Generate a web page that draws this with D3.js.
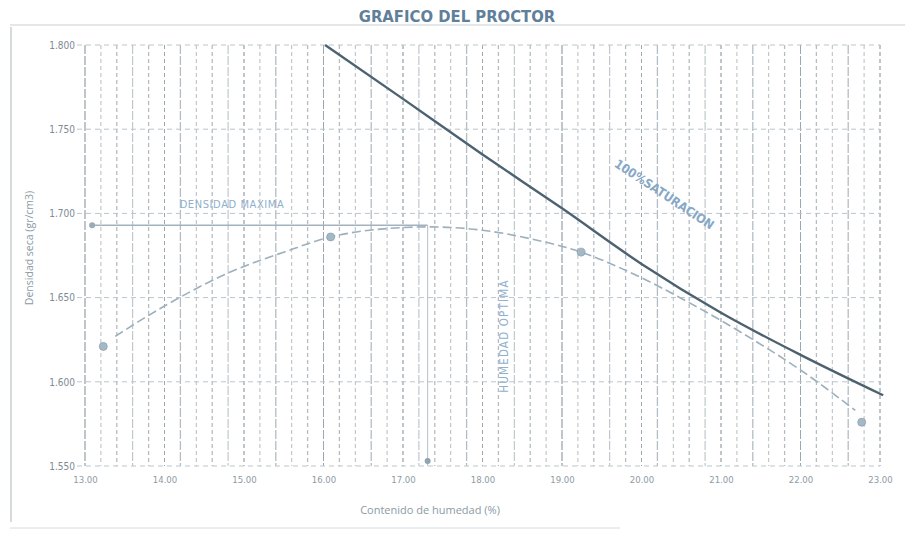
<!DOCTYPE html>
<html>
<head>
<meta charset="utf-8">
<script src="https://cdn.jsdelivr.net/npm/d3@7"></script>
<style>
  body { margin: 0; background: #fff; }
  svg { display: block; }
</style>
</head>
<body>
<div id="chart"></div>
<script>
// Proctor test readings (moisture %, dry density gr/cm3)
const moisture = [13.23, 16.09, 19.24, 22.77];
const density = [1.621, 1.686, 1.677, 1.576];

// hand drawn compaction curve through the readings
const curveMoisture = [13.38, 14.0, 14.82, 15.5, 16.09, 16.8, 17.34, 18.0, 18.6, 19.24, 19.9, 20.6, 21.3, 22.0, 22.69];
const curveDensity = [1.627, 1.645, 1.665, 1.677, 1.686, 1.691, 1.692, 1.690, 1.685, 1.677, 1.664, 1.647, 1.628, 1.607, 1.583];

// zero air voids line
const satMoisture = [16.02, 17.0, 18.0, 19.0, 20.0, 21.0, 22.0, 23.04];
const satDensity = [1.800, 1.768, 1.735, 1.703, 1.670, 1.641, 1.616, 1.592];

const maxDensity = 1.693;
const optMoisture = 17.31;
const xStart = 13.09;

const xTicks = [13, 14, 15, 16, 17, 18, 19, 20, 21, 22, 23];
const yTicks = [1.55, 1.60, 1.65, 1.70, 1.75, 1.80];

const width = 909, height = 535;
const gridColor = '#b3bdc3';
const textColor = '#8c9aa4';
const blueText = '#8fb0cc';

const svg = d3.select('#chart').append('svg')
  .attr('width', width)
  .attr('height', height)
  .attr('viewBox', `0 0 ${width} ${height}`);

const x = d3.scaleLinear().domain([13, 23]).range([85, 880]);
const y = d3.scaleLinear().domain([1.55, 1.80]).range([466, 45]);

// sheet borders from the scan
svg.append('line')
  .attr('x1', 10).attr('x2', 905).attr('y1', 25).attr('y2', 25)
  .attr('stroke', '#c9cfd3').attr('stroke-width', 1.2);
svg.append('line')
  .attr('x1', 11).attr('x2', 11).attr('y1', 27).attr('y2', 522)
  .attr('stroke', '#b9c1c6').attr('stroke-width', 1.2);
svg.append('line')
  .attr('x1', 10).attr('x2', 620).attr('y1', 528).attr('y2', 528)
  .attr('stroke', '#d6dbde').attr('stroke-width', 1);

// title
svg.append('text')
  .attr('x', 457).attr('y', 22)
  .attr('text-anchor', 'middle')
  .style('font-family', '"DejaVu Sans Condensed", "Liberation Sans Narrow", sans-serif')
  .style('font-weight', 'bold')
  .style('font-size', '16.5px')
  .style('fill', '#5f7f9a')
  .text('GRAFICO DEL PROCTOR');

// grid
const grid = svg.append('g').attr('class', 'grid');
const vLines = d3.range(0, 51).map(i => 13 + i * 0.2);
grid.selectAll('.vline')
  .data(vLines)
  .enter().append('line')
  .attr('class', 'vline')
  .attr('x1', d => x(d)).attr('x2', d => x(d))
  .attr('y1', y(1.80)).attr('y2', y(1.55))
  .attr('stroke', (d, i) => i % 5 === 0 ? '#9ca8af' : gridColor)
  .attr('stroke-width', (d, i) => i % 2 === 0 ? 1.3 : 1)
  .attr('stroke-dasharray', (d, i) => i % 3 === 0 ? '9,2' : '4,3');

grid.selectAll('.hline')
  .data(yTicks)
  .enter().append('line')
  .attr('class', 'hline')
  .attr('x1', x(13) - 8).attr('x2', x(23))
  .attr('y1', d => y(d)).attr('y2', d => y(d))
  .attr('stroke', '#bcc5ca')
  .attr('stroke-width', 1)
  .attr('stroke-dasharray', '5,4');

// axes labels
const yAxis = d3.axisLeft(y).tickValues(yTicks).tickSize(0).tickPadding(10)
  .tickFormat(d3.format('.3f'));
const gy = svg.append('g').attr('transform', `translate(${x(13)},0)`).call(yAxis);
gy.select('.domain').remove();
gy.selectAll('text')
  .style('font-family', '"DejaVu Sans Condensed", sans-serif')
  .style('font-size', '10px')
  .style('fill', '#7d8a93');

const xAxis = d3.axisBottom(x).tickValues(xTicks).tickSize(0).tickPadding(10)
  .tickFormat(d3.format('.2f'));
const gx = svg.append('g').attr('transform', `translate(0,${y(1.55)})`).call(xAxis);
gx.select('.domain').remove();
gx.selectAll('text')
  .style('font-family', '"DejaVu Sans Condensed", sans-serif')
  .style('font-size', '9.5px')
  .style('fill', '#8e9ba4');

// axis titles
svg.append('text')
  .attr('x', 430).attr('y', 514)
  .attr('text-anchor', 'middle')
  .style('font-family', '"Open Sans", sans-serif')
  .style('font-size', '11px')
  .style('fill', textColor)
  .text('Contenido de humedad (%)');

svg.append('text')
  .attr('transform', 'translate(33,248) rotate(-90)')
  .attr('text-anchor', 'middle')
  .style('font-family', '"Open Sans", sans-serif')
  .style('font-size', '10.5px')
  .style('fill', textColor)
  .text('Densidad seca (gr/cm3)');

// maximum density line
svg.append('line')
  .attr('x1', x(xStart)).attr('x2', x(optMoisture))
  .attr('y1', y(maxDensity)).attr('y2', y(maxDensity))
  .attr('stroke', '#a3b2bd').attr('stroke-width', 1.4);

svg.append('circle')
  .attr('cx', x(xStart)).attr('cy', y(maxDensity)).attr('r', 3)
  .attr('fill', '#9aabb8');

// optimum moisture marker on axis
svg.append('line')
  .attr('x1', x(optMoisture)).attr('x2', x(optMoisture))
  .attr('y1', y(maxDensity)).attr('y2', y(1.55))
  .attr('stroke', '#b6c1c8').attr('stroke-width', 1);
svg.append('circle')
  .attr('cx', x(optMoisture)).attr('cy', y(1.553)).attr('r', 3)
  .attr('fill', '#8fa3b1');

// compaction curve
const curveData = curveMoisture.map((m, i) => [m, curveDensity[i]]);
svg.append('path')
  .datum(curveData)
  .attr('d', d3.line().x(d => x(d[0])).y(d => y(d[1])).curve(d3.curveMonotoneX))
  .attr('fill', 'none')
  .attr('stroke', '#9db0bd')
  .attr('stroke-width', 1.6)
  .attr('stroke-dasharray', '9,4');

// saturation line
const satData = satMoisture.map((m, i) => [m, satDensity[i]]);
svg.append('path')
  .datum(satData)
  .attr('d', d3.line().x(d => x(d[0])).y(d => y(d[1])).curve(d3.curveMonotoneX))
  .attr('fill', 'none')
  .attr('stroke', '#4d6270')
  .attr('stroke-width', 2.4);

// readings
const pts = moisture.map((m, i) => ({ m, d: density[i] }));
svg.selectAll('.pt')
  .data(pts)
  .enter().append('circle')
  .attr('class', 'pt')
  .attr('cx', d => x(d.m))
  .attr('cy', d => y(d.d))
  .attr('r', 4)
  .attr('fill', '#a5b8c6')
  .attr('stroke', '#8ea3b2')
  .attr('stroke-width', 0.8);

// annotations
svg.append('text')
  .attr('x', 232).attr('y', 208)
  .attr('text-anchor', 'middle')
  .style('font-family', '"DejaVu Sans Condensed", sans-serif')
  .style('font-size', '11px')
  .style('letter-spacing', '0.6px')
  .style('fill', blueText)
  .text('DENSIDAD MAXIMA');

svg.append('text')
  .attr('transform', 'translate(508,336) rotate(-90)')
  .attr('text-anchor', 'middle')
  .style('font-family', '"DejaVu Sans Condensed", sans-serif')
  .style('font-size', '11.5px')
  .style('letter-spacing', '1.2px')
  .style('fill', blueText)
  .text('HUMEDAD OPTIMA');

svg.append('text')
  .attr('transform', 'translate(662,198) rotate(33.5)')
  .attr('text-anchor', 'middle')
  .style('font-family', '"DejaVu Sans Condensed", sans-serif')
  .style('font-weight', 'bold')
  .style('font-size', '12.5px')
  .style('fill', '#86a8c6')
  .text('100%SATURACION');
</script>
</body>
</html>
